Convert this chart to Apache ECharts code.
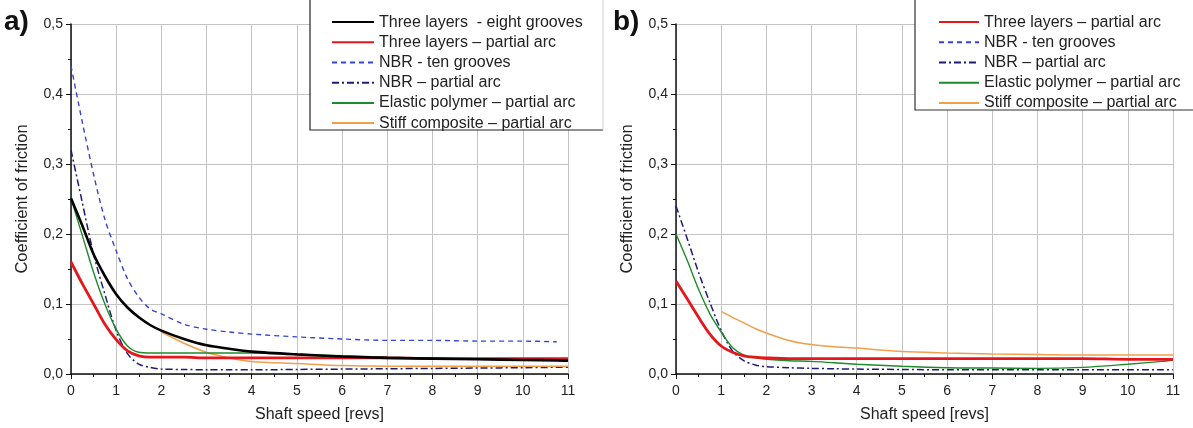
<!DOCTYPE html>
<html>
<head>
<meta charset="utf-8">
<script src="https://cdn.jsdelivr.net/npm/echarts@6/dist/echarts.min.js"></script>
<style>
  html, body { margin: 0; padding: 0; background: #fff; }
  #chart { width: 1193px; height: 428px; }
</style>
</head>
<body>
<div id="chart"></div>
<script>
// shaft speed sample points [revs]
const speeds = [0, 0.25, 0.5, 0.75, 1, 1.25, 1.5, 1.75, 2, 2.5, 3, 3.5, 4, 5, 6, 7, 8, 9, 10, 10.75, 11];

// panel a)
const aEightGrooves = [0.251, 0.212, 0.171, 0.14, 0.114, 0.095, 0.081, 0.07, 0.062, 0.05, 0.041, 0.036, 0.032, 0.028, 0.025, 0.023, 0.022, 0.021, 0.02, 0.0195, 0.019];
const aThreePartial = [0.16, 0.129, 0.1, 0.071, 0.049, 0.033, 0.026, 0.024, 0.024, 0.024, 0.023, 0.023, 0.023, 0.023, 0.023, 0.023, 0.022, 0.022, 0.022, 0.022, 0.022];
const aNbrTen = [0.44, 0.36, 0.285, 0.221, 0.176, 0.136, 0.11, 0.093, 0.086, 0.071, 0.064, 0.06, 0.057, 0.053, 0.05, 0.048, 0.048, 0.047, 0.047, 0.046, null];
const aNbrPartial = [0.32, 0.245, 0.171, 0.114, 0.062, 0.029, 0.014, 0.0095, 0.007, 0.0065, 0.006, 0.006, 0.006, 0.0065, 0.007, 0.0075, 0.008, 0.0085, 0.009, 0.0095, 0.0095];
const aElastic = [0.251, 0.198, 0.145, 0.1, 0.064, 0.04, 0.031, 0.03, 0.03, 0.03, 0.03, 0.03, 0.03, 0.028, 0.026, 0.024, 0.023, 0.022, 0.021, 0.02, 0.02];
const aStiff = [null, null, null, null, null, null, null, null, 0.06, 0.044, 0.031, 0.023, 0.018, 0.015, 0.012, 0.011, 0.011, 0.011, 0.011, 0.011, 0.011];

// panel b)
const bThreePartial = [0.133, 0.107, 0.081, 0.057, 0.04, 0.031, 0.026, 0.024, 0.023, 0.022, 0.022, 0.022, 0.022, 0.022, 0.022, 0.022, 0.022, 0.022, 0.021, 0.021, 0.021];
const bNbrPartial = [0.24, 0.193, 0.145, 0.102, 0.062, 0.033, 0.019, 0.013, 0.0105, 0.009, 0.008, 0.0075, 0.007, 0.0065, 0.006, 0.006, 0.006, 0.006, 0.006, 0.006, 0.006];
const bElastic = [0.2, 0.162, 0.121, 0.086, 0.06, 0.038, 0.027, 0.023, 0.021, 0.019, 0.018, 0.016, 0.014, 0.011, 0.009, 0.0085, 0.008, 0.0095, 0.014, 0.018, 0.02];
const bStiff = [null, null, null, null, 0.0895, 0.081, 0.073, 0.065, 0.0585, 0.048, 0.042, 0.039, 0.037, 0.032, 0.03, 0.0286, 0.028, 0.027, 0.027, 0.027, 0.027];

const xTicks = { min: 0, max: 11, interval: 1 };
const yTicks = { min: 0, max: 0.5, interval: 0.1 };

const NAMES = {
  eight: 'Three layers  - eight grooves',
  three: 'Three layers \u2013 partial arc',
  ten: 'NBR - ten grooves',
  nbr: 'NBR \u2013 partial arc',
  elastic: 'Elastic polymer \u2013 partial arc',
  stiff: 'Stiff composite \u2013 partial arc'
};

const STYLES = {
  eight: { color: '#000000', width: 2.6, type: 'solid' },
  three: { color: '#e3171c', width: 2.8, type: 'solid' },
  ten: { color: '#3545d0', width: 1.4, type: [5, 4] },
  nbr: { color: '#1c1c78', width: 1.5, type: [7, 3, 2, 3] },
  elastic: { color: '#1f8a2a', width: 1.4, type: 'solid' },
  stiff: { color: '#f0a04a', width: 1.5, type: 'solid' }
};

const FONT = 'Liberation Sans, Arial, sans-serif';

function pairs(vals) {
  const out = [];
  speeds.forEach((s, i) => { if (vals[i] != null) out.push([s, vals[i]]); });
  return out;
}

function line(key, vals, idx) {
  const st = STYLES[key];
  return {
    name: NAMES[key],
    type: 'line',
    xAxisIndex: idx,
    yAxisIndex: idx,
    data: vals ? pairs(vals) : [],
    symbol: 'none',
    smooth: 0.3,
    color: st.color,
    lineStyle: { color: st.color, width: st.width, type: st.type },
    z: key === 'three' || key === 'eight' ? 3 : 2
  };
}

function xAxis(idx) {
  return {
    type: 'value', gridIndex: idx, min: xTicks.min, max: xTicks.max, interval: xTicks.interval,
    name: 'Shaft speed [revs]', nameLocation: 'middle', nameGap: 33,
    nameTextStyle: { fontFamily: FONT, fontSize: 16, color: '#222' },
    axisLine: { onZero: false, lineStyle: { color: '#111', width: 1.5 } },
    axisTick: { show: true, length: 5, lineStyle: { color: '#111' } },
    minorTick: { show: true, splitNumber: 2, length: 3, lineStyle: { color: '#111' } },
    axisLabel: { fontFamily: FONT, fontSize: 14, color: '#222', margin: 10 },
    splitLine: { show: true, lineStyle: { color: '#c4c4c4', width: 1 } }
  };
}

function yAxis(idx) {
  return {
    type: 'value', gridIndex: idx, min: yTicks.min, max: yTicks.max, interval: yTicks.interval,
    name: 'Coefficient of friction', nameLocation: 'middle', nameGap: 40,
    nameTextStyle: { fontFamily: FONT, fontSize: 16.5, color: '#222' },
    axisLine: { show: true, lineStyle: { color: '#111', width: 1.5 } },
    axisTick: { show: true, length: 5, lineStyle: { color: '#111' } },
    minorTick: { show: true, splitNumber: 2, length: 3, lineStyle: { color: '#111' } },
    axisLabel: { fontFamily: FONT, fontSize: 14, color: '#222', margin: 8,
      formatter: v => v.toFixed(1).replace('.', ',') },
    splitLine: { show: true, lineStyle: { color: '#c4c4c4', width: 1 } }
  };
}

function legend(left, top, names, itemWidth) {
  return {
    orient: 'vertical', left: left, top: top, padding: 0, itemGap: 0,
    itemWidth: itemWidth, itemHeight: 14,
    data: names, selectedMode: false,
    itemStyle: { opacity: 0 },
    textStyle: { fontFamily: FONT, fontSize: 16, color: '#222', lineHeight: 20.2 }
  };
}

const chart = echarts.init(document.getElementById('chart'));
chart.setOption({
  backgroundColor: '#fff',
  animation: false,
  grid: [
    { left: 71, top: 24, width: 497, height: 351 },
    { left: 676, top: 24, width: 497, height: 351 }
  ],
  xAxis: [xAxis(0), xAxis(1)],
  yAxis: [yAxis(0), yAxis(1)],
  legend: [
    legend(331, 12, [NAMES.eight, NAMES.three, NAMES.ten, NAMES.nbr, NAMES.elastic, NAMES.stiff], 42),
    legend(938, 12, [NAMES.three, NAMES.ten, NAMES.nbr, NAMES.elastic, NAMES.stiff], 40)
  ],
  graphic: [
    { type: 'rect', z: 3, shape: { x: 310, y: -2, width: 293, height: 132 }, style: { fill: '#fff', stroke: null } },
    { type: 'polyline', z: 3, shape: { points: [[310, 0], [310, 130], [603, 130]] }, style: { stroke: '#222', lineWidth: 1.2, fill: null } },
    { type: 'line', z: 3, shape: { x1: 603, y1: 0, x2: 603, y2: 130 }, style: { stroke: '#ccc', lineWidth: 1 } },
    { type: 'rect', z: 3, shape: { x: 915, y: -2, width: 280, height: 112 }, style: { fill: '#fff', stroke: null } },
    { type: 'polyline', z: 3, shape: { points: [[915, 0], [915, 110], [1193, 110]] }, style: { stroke: '#333', lineWidth: 1.2, fill: null } },
    { type: 'text', z: 5, left: 4, top: 8, style: { text: 'a)', font: 'bold 28px ' + FONT, fill: '#111' } },
    { type: 'text', z: 5, left: 613, top: 8, style: { text: 'b)', font: 'bold 28px ' + FONT, fill: '#111' } }
  ],
  series: [
    line('ten', aNbrTen, 0),
    line('nbr', aNbrPartial, 0),
    line('stiff', aStiff, 0),
    line('elastic', aElastic, 0),
    line('three', aThreePartial, 0),
    line('eight', aEightGrooves, 0),
    line('ten', null, 1),
    line('stiff', bStiff, 1),
    line('nbr', bNbrPartial, 1),
    line('elastic', bElastic, 1),
    line('three', bThreePartial, 1)
  ]
});
window.addEventListener('resize', () => chart.resize());
</script>
</body>
</html>
